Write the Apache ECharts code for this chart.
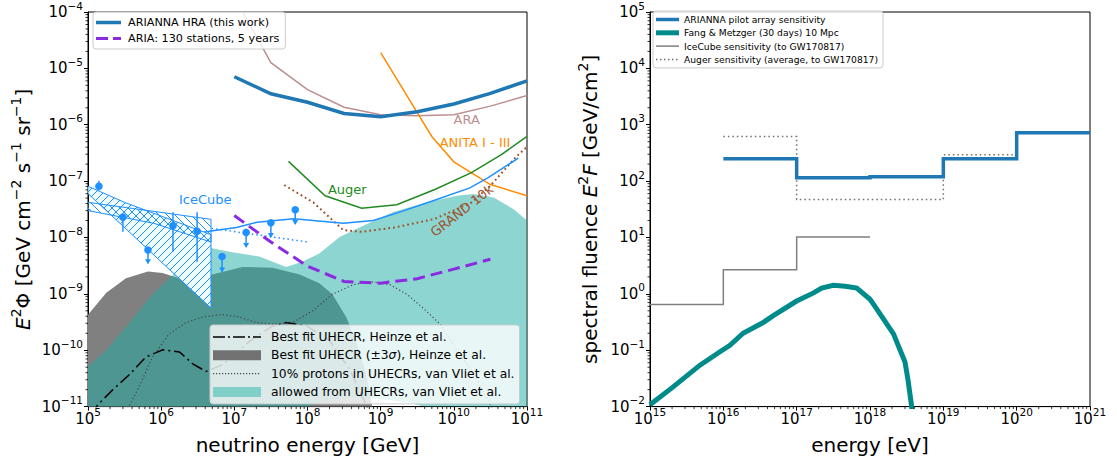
<!DOCTYPE html>
<html><head><meta charset="utf-8">
<script src="https://cdn.jsdelivr.net/npm/echarts@6/dist/echarts.min.js"></script>
<style>html,body{margin:0;padding:0;background:#fff}#c{width:1117px;height:464px}</style>
</head><body><div id="c"></div>
<script>
// ================= DATA: left panel (neutrino energy [GeV], E^2 Phi) =================
const ariannaHraE = [1e7, 3.16e7, 1e8, 3.16e8, 1e9, 3.16e9, 1e10, 3.16e10, 1e11];
const ariannaHraF = [7.1e-6, 3.55e-6, 2.5e-6, 1.58e-6, 1.38e-6, 1.7e-6, 2.34e-6, 3.6e-6, 6.0e-6];

const araE = [1e7, 3.16e7, 1e8, 3.16e8, 1e9, 3.16e9, 1e10, 3.16e10, 1e11];
const araF = [1.86e-4, 1.26e-5, 4.2e-6, 2.04e-6, 1.51e-6, 1.45e-6, 1.51e-6, 2.14e-6, 3.3e-6];

const anitaE = [1e9, 2.5e9, 5e9, 1e10, 3.16e10, 1e11];
const anitaF = [1.9e-5, 2.7e-6, 6.2e-7, 2.2e-7, 8.7e-8, 5.5e-8];

const augerE = [5.5e7, 1.74e8, 5.5e8, 1.66e9, 5.5e9, 1.74e10, 4.47e10, 1e11];
const augerF = [2.24e-7, 5.5e-8, 3.3e-8, 3.8e-8, 7.1e-8, 1.41e-7, 2.95e-7, 6.2e-7];

const grandE = [4.8e7, 1.2e8, 3.1e8, 5.5e8, 1.58e9, 5.5e9, 1.74e10, 3.1e10, 7.2e10, 1e11];
const grandF = [8.5e-8, 4.2e-8, 1.35e-8, 1.26e-8, 1.51e-8, 2.14e-8, 4.17e-8, 8.1e-8, 2.75e-7, 4.07e-7];

const icecubeE = [1.6e6, 2.2e6, 4.8e6, 1.07e7, 2.04e7, 6.5e7, 3.1e8, 7.9e8, 1.82e9, 5.2e9, 1.66e10, 2.95e10, 7.6e10];
const icecubeF = [7.8e-9, 1.1e-8, 1.3e-8, 1.51e-8, 1.86e-8, 2.14e-8, 1.78e-8, 2.0e-8, 2.82e-8, 4.47e-8, 7.6e-8, 1.15e-7, 2.57e-7];

const icecubeDotE = [4.9e6, 1.02e8];
const icecubeDotF = [1.45e-8, 8.3e-9];

const ariaE = [1e7, 3.16e7, 1e8, 3.16e8, 1e9, 3.16e9, 1e10, 3.16e10];
const ariaF = [2.45e-8, 8.3e-9, 3.1e-9, 1.66e-9, 1.55e-9, 1.86e-9, 2.75e-9, 4.1e-9];

const heinzeE = [1.12e5, 1.35e5, 2.19e5, 3.6e5, 6.2e5, 1.05e6, 1.78e6, 2.7e6, 4.1e6, 7.1e6, 1.58e7, 3.16e7, 5.1e7, 9.8e7, 2.0e8, 3.8e8, 6.5e8, 7.9e8];
const heinzeF = [7e-12, 1.07e-11, 2.0e-11, 3.6e-11, 7.6e-11, 1.02e-10, 9.3e-11, 5.75e-11, 4.2e-11, 5.6e-11, 1.41e-10, 2.6e-10, 3.1e-10, 2.7e-10, 1.48e-10, 4.5e-11, 1.0e-11, 5e-12];

const protonsE = [3.2e5, 3.6e5, 5.0e5, 7.6e5, 1.29e6, 2.19e6, 3.7e6, 6.9e6, 1.17e7, 2.0e7, 3.3e7, 6.3e7, 1.17e8, 2.19e8, 4.2e8, 7.1e8, 1.35e9, 2.29e9, 3.8e9, 6.5e9, 1.1e10, 1.86e10, 3.1e10, 3.5e10];
const protonsF = [7e-12, 1.0e-11, 2.24e-11, 7.6e-11, 1.95e-10, 3.1e-10, 3.9e-10, 4.3e-10, 3.9e-10, 3.1e-10, 2.9e-10, 3.1e-10, 5.0e-10, 9.8e-10, 1.45e-9, 1.66e-9, 1.45e-9, 9.8e-10, 5.6e-10, 2.9e-10, 1.0e-10, 3.9e-11, 1.15e-11, 8e-12];

// Heinze +-3 sigma band (upper edge, lower edge)
const heinzeBandUpE = [9.3e4, 1.78e5, 3.3e5, 6.6e5, 1.05e6, 2.1e6, 5.0e6, 1.29e7, 3.3e7, 7.8e7, 1.45e8, 2.19e8, 3.4e8, 4.6e8, 6.3e8, 7.8e8, 8.9e8];
const heinzeBandUpF = [3.8e-10, 1.05e-9, 1.9e-9, 2.5e-9, 2.35e-9, 1.74e-9, 2.2e-9, 3.0e-9, 2.9e-9, 2.2e-9, 1.55e-9, 9.8e-10, 3.8e-10, 1.48e-10, 3.9e-11, 8.9e-12, 3.2e-12];
const heinzeBandLoE = [8.9e8, 9.3e4];
const heinzeBandLoF = [1e-12, 1e-12];

// allowed from UHECRs (van Vliet) band
const vlietUpE = [9.3e4, 1.78e5, 3.6e5, 7.6e5, 1.29e6, 2.45e6, 4.8e6, 8.5e6, 2.19e7, 5.1e7, 8.5e7, 1.45e8, 2.75e8, 6.5e8, 1.48e9, 4.3e9, 1.1e10, 1.86e10, 3.5e10, 6.5e10, 1e11];
const vlietUpF = [4.8e-11, 1.0e-10, 2.95e-10, 9.8e-10, 1.9e-9, 4.1e-9, 6.5e-9, 5.6e-9, 4.6e-9, 3.0e-9, 3.7e-9, 5.2e-9, 1.02e-8, 1.74e-8, 2.82e-8, 4.2e-8, 5.5e-8, 5.9e-8, 5.1e-8, 3.2e-8, 2.0e-8];
const vlietLoE = [1e11, 6.3e9, 5.5e9, 2.5e9, 9.8e8, 3.8e8, 1.48e8, 7.9e7, 7.1e7, 9.3e4];
const vlietLoF = [1e-12, 3e-12, 8.9e-12, 1.17e-11, 1.38e-11, 1.45e-11, 1.23e-11, 8.9e-12, 3e-12, 1e-12];

// IceCube astrophysical fits (butterflies)
const icBandAUpE = [1e5, 8e5, 4.8e6];
const icBandAUpF = [4.2e-8, 2.9e-8, 2.1e-8];
const icBandALoE = [4.8e6, 8e5, 1e5];
const icBandALoF = [8.3e-9, 1.78e-8, 3.0e-8];
const icBandBUpE = [1e5, 3.16e5, 1e6, 4.8e6];
const icBandBUpF = [8.1e-8, 4.2e-8, 2.4e-8, 1.12e-8];
const icBandBLoE = [4.8e6, 1e6, 3.16e5, 1e5];
const icBandBLoF = [5.6e-10, 3.7e-9, 1.5e-8, 6.0e-8];

// IceCube data points: energy, flux, lower end, upper end (null = none), upper limit flag
const icPointE    = [1.41e5, 3.0e5, 6.6e5, 1.45e6, 3.1e6, 6.8e6, 1.45e7, 3.16e7, 6.8e7];
const icPointF    = [8.1e-8, 2.3e-8, 6.0e-9, 1.62e-8, 1.29e-8, 4.6e-9, 1.23e-8, 1.82e-8, 3.1e-8];
const icPointLow  = [6.8e-8, 1.26e-8, 3.5e-9, 5.6e-9, 3.7e-9, 2.5e-9, 6.8e-9, 1.02e-8, 1.74e-8];
const icPointHigh = [1.02e-7, 2.6e-8, null, 2.8e-8, 2.8e-8, null, null, null, null];
const icPointUL   = [0, 0, 1, 0, 0, 1, 1, 1, 1];

// in-plot annotations
const annText = ['ARA', 'ANITA I - III', 'Auger', 'IceCube', 'GRAND 10k'];
const annE    = [1.5e10, 1.95e10, 3.5e8, 4.0e6, 1.29e10];
const annF    = [1.23e-6, 4.8e-7, 7.2e-8, 4.8e-8, 3.0e-8];

// ================= DATA: right panel (energy [eV], spectral fluence) =================
const pilotE = [1e16, 1e17, 1e18, 1e19, 1e20, 1e21];
const pilotF = [250, 115, 120, 250, 720, 720];

const augerSensE = [1e16, 1e17, 1e19, 1e20];
const augerSensF = [617, 47, 295, 295];

const icSensE = [1e15, 1e16, 1e17, 1e18];
const icSensF = [0.65, 2.67, 10.2, 10.2];

const fangE = [1e15, 2.09e15, 4.8e15, 8.9e15, 1.23e16, 1.86e16, 3.5e16, 4.8e16, 1e17, 1.7e17, 2.19e17, 3.16e17, 4.6e17, 6.6e17, 1e18, 1.12e18, 2.09e18, 3.0e18, 3.3e18, 3.7e18, 3.9e18];
const fangF = [0.0108, 0.0226, 0.0543, 0.093, 0.122, 0.20, 0.31, 0.41, 0.745, 1.04, 1.27, 1.42, 1.36, 1.27, 0.80, 0.65, 0.195, 0.062, 0.0295, 0.01, 0.003];

// axis ranges (decades)
const leftX = [1e5, 1e11], leftY = [1e-11, 1e-4];
const rightX = [1e15, 1e21], rightY = [1e-2, 1e5];

// ================= helpers =================
const FONT = 'DejaVu Sans';
const zip = (a, b) => a.map((v, i) => [v, b[i]]);

function minorTicks(lo, hi) {
  const out = [];
  const d0 = Math.round(Math.log10(lo)), d1 = Math.round(Math.log10(hi));
  for (let d = d0; d < d1; d++) for (let m = 2; m <= 9; m++) out.push(m * Math.pow(10, d));
  return out;
}
function sciLabel(v) {
  const e = Math.round(Math.log10(v));
  return '{b|10}{s|' + (e < 0 ? '\u2212' + (-e) : e) + '}';
}
const labelRich = {
  b: { fontSize: 15, lineHeight: 24, verticalAlign: 'middle', fontFamily: FONT, color: '#000' },
  s: { fontSize: 10.5, lineHeight: 11, verticalAlign: 'top', fontFamily: FONT, color: '#000' }
};
const nameRich = {
  i: { fontStyle: 'italic', fontSize: 20, lineHeight: 28, fontFamily: FONT, color: '#000' },
  s: { fontSize: 14, lineHeight: 14, verticalAlign: 'top', fontFamily: FONT, color: '#000' }
};

function hatch(dir, bg) {
  const c = document.createElement('canvas');
  c.width = 8; c.height = 8;
  const g = c.getContext('2d');
  if (bg) { g.fillStyle = bg; g.fillRect(0, 0, 8, 8); }
  g.strokeStyle = '#1e90ff'; g.lineWidth = 1;
  g.beginPath();
  if (dir === '/') {
    g.moveTo(-1, 9); g.lineTo(9, -1);
    g.moveTo(-1, 1); g.lineTo(1, -1);
    g.moveTo(7, 9); g.lineTo(9, 7);
  } else {
    g.moveTo(-1, -1); g.lineTo(9, 9);
    g.moveTo(7, -1); g.lineTo(9, 1);
    g.moveTo(-1, 7); g.lineTo(1, 9);
  }
  g.stroke();
  return { image: c, repeat: 'repeat' };
}

function polySeries(name, xi, upE, upF, loE, loF, style, z, color) {
  return {
    type: 'custom', name: name, xAxisIndex: xi, yAxisIndex: xi, z: z, clip: true, silent: true,
    itemStyle: { color: color || '#888' },
    data: [xi === 0 ? [1e6, 1e-8] : [1e17, 1]],
    renderItem: function (params, api) {
      const pts = [];
      upE.forEach((e, i) => pts.push(api.coord([e, upF[i]])));
      loE.forEach((e, i) => pts.push(api.coord([e, loF[i]])));
      return { type: 'polygon', shape: { points: pts }, style: style };
    }
  };
}

function lineSeries(name, xi, E, F, color, width, type, z, step) {
  return {
    type: 'line', name: name, xAxisIndex: xi, yAxisIndex: xi, data: zip(E, F),
    showSymbol: false, symbol: 'none', color: color, z: z || 3, step: step || false, silent: true,
    lineStyle: { color: color, width: width, type: type || 'solid', cap: 'butt', join: 'miter' }
  };
}

function minorTickSeries(xi, axis, vals, fixed) {
  return {
    type: 'custom', xAxisIndex: xi, yAxisIndex: xi, clip: false, silent: true, z: 10,
    data: vals.map(v => axis === 'x' ? [v, fixed] : [fixed, v]),
    renderItem: function (params, api) {
      const p = api.coord([api.value(0), api.value(1)]);
      const shape = axis === 'x'
        ? { x1: p[0], y1: p[1], x2: p[0], y2: p[1] + 2.5 }
        : { x1: p[0] - 2.5, y1: p[1], x2: p[0], y2: p[1] };
      return { type: 'line', shape: shape, style: { stroke: '#000', lineWidth: 0.8 } };
    }
  };
}

// legend icon paths (stretched to item box, corner moves fix the box)
function barIcon(w, h, y0, t) { return 'path://M0,0 M0,' + y0 + 'h' + w + 'v' + t + 'h-' + w + 'z M' + w + ',' + h; }
function dashIcon(w, h, y0, t, segs) {
  let p = 'path://M0,0';
  segs.forEach(s => { p += ' M' + s[0] + ',' + y0 + 'h' + s[1] + 'v' + t + 'h-' + s[1] + 'z'; });
  return p + ' M' + w + ',' + h;
}
function dotIcon(w, h, y0, t, step) {
  const segs = [];
  for (let x = 0; x + t <= w; x += step) segs.push([x, t]);
  return dashIcon(w, h, y0, t, segs);
}

// ================= option =================
const C = {
  blue: '#1f77b4', ara: '#bc8f8f', anita: '#ff8c00', auger: '#228b22', grand: '#a0522d',
  ice: '#1e90ff', aria: '#8a2be2', teal: '#008b8b'
};

const series = [
  polySeries('Best fit UHECR (\u00b13\u03c3), Heinze et al.', 0, heinzeBandUpE, heinzeBandUpF, heinzeBandLoE, heinzeBandLoF,
    { fill: '#808080' }, 1, '#727272'),
  polySeries('allowed from UHECRs, van Vliet et al.', 0, vlietUpE, vlietUpF, vlietLoE, vlietLoF,
    { fill: 'rgba(27,171,161,0.5)' }, 1, '#80cfc9'),
  lineSeries('Best fit UHECR, Heinze et al.', 0, heinzeE, heinzeF, '#000', 1.5, [12, 4, 2, 4], 2),
  lineSeries('10% protons in UHECRs, van Vliet et al.', 0, protonsE, protonsF, '#444', 1.2, [1.2, 2.4], 2),
  lineSeries('ARA', 0, araE, araF, C.ara, 1.5),
  lineSeries('ANITA', 0, anitaE, anitaF, C.anita, 1.5),
  lineSeries('Auger', 0, augerE, augerF, C.auger, 1.5),
  lineSeries('GRAND 10k', 0, grandE, grandF, C.grand, 2, [1.8, 3], 3),
  lineSeries('IceCube', 0, icecubeE, icecubeF, C.ice, 1.5),
  lineSeries('IceCube extension', 0, icecubeDotE, icecubeDotF, C.ice, 1.5, [1.5, 3]),
  polySeries('IceCube fit B', 0, icBandBUpE, icBandBUpF, icBandBLoE, icBandBLoF,
    { fill: hatch('/', '#eefbff'), stroke: C.ice, lineWidth: 1 }, 4),
  polySeries('IceCube fit A', 0, icBandAUpE, icBandAUpF, icBandALoE, icBandALoF,
    { fill: hatch('\\', null), stroke: C.ice, lineWidth: 1 }, 4),
  {
    type: 'custom', name: 'IceCube points', xAxisIndex: 0, yAxisIndex: 0, z: 5, clip: true, silent: true,
    data: icPointE.map((e, i) => [e, icPointF[i], icPointLow[i], icPointHigh[i] == null ? icPointF[i] : icPointHigh[i], icPointUL[i]]),
    renderItem: function (params, api) {
      const p = api.coord([api.value(0), api.value(1)]);
      const lo = api.coord([api.value(0), api.value(2)]);
      const hi = api.coord([api.value(0), api.value(3)]);
      const st = { stroke: C.ice, lineWidth: 1.5 };
      const ch = [];
      ch.push({ type: 'line', shape: { x1: p[0], y1: hi[1], x2: p[0], y2: lo[1] }, style: st });
      if (api.value(4)) {
        ch.push({ type: 'polygon', shape: { points: [[p[0] - 3, lo[1] - 4], [p[0] + 3, lo[1] - 4], [p[0], lo[1] + 1]] }, style: { fill: C.ice } });
      }
      ch.push({ type: 'circle', shape: { cx: p[0], cy: p[1], r: 3.8 }, style: { fill: C.ice } });
      return { type: 'group', children: ch };
    }
  },
  lineSeries('ARIA: 130 stations, 5 years', 0, ariaE, ariaF, C.aria, 3, [12, 6], 6),
  lineSeries('ARIANNA HRA (this work)', 0, ariannaHraE, ariannaHraF, C.blue, 3.5, 'solid', 6),
  {
    type: 'custom', xAxisIndex: 0, yAxisIndex: 0, z: 7, clip: false, silent: true,
    data: annE.map((e, i) => [e, annF[i]]),
    renderItem: function (params, api) {
      const i = params.dataIndex;
      const p = api.coord([api.value(0), api.value(1)]);
      const cols = [C.ara, C.anita, C.auger, C.ice, C.grand];
      return {
        type: 'text', x: p[0], y: p[1], rotation: i === 4 ? 38 * Math.PI / 180 : 0,
        style: { text: annText[i], fill: cols[i], font: '13px "DejaVu Sans"', align: 'center', verticalAlign: 'middle' }
      };
    }
  },
  lineSeries('IceCube sensitivity (to GW170817)', 1, icSensE, icSensF, '#7f7f7f', 1.5, 'solid', 3, 'end'),
  lineSeries('Auger sensitivity (average, to GW170817)', 1, augerSensE, augerSensF, '#6f6f6f', 1.5, [1.5, 3], 3, 'end'),
  lineSeries('Fang & Metzger (30 days) 10 Mpc', 1, fangE, fangF, C.teal, 5, 'solid', 4),
  lineSeries('ARIANNA pilot array sensitivity', 1, pilotE, pilotF, C.blue, 3.5, 'solid', 5, 'end'),
  minorTickSeries(0, 'x', minorTicks(leftX[0], leftX[1]), leftY[0]),
  minorTickSeries(0, 'y', minorTicks(leftY[0], leftY[1]), leftX[0]),
  minorTickSeries(1, 'x', minorTicks(rightX[0], rightX[1]), rightY[0]),
  minorTickSeries(1, 'y', minorTicks(rightY[0], rightY[1]), rightX[0])
];

function logAxis(gi, range, extra) {
  return Object.assign({
    type: 'log', logBase: 10, gridIndex: gi, min: range[0], max: range[1],
    splitLine: { show: false },
    axisLine: { show: true, onZero: false, lineStyle: { color: '#000', width: 1 } },
    axisTick: { show: true, inside: false, length: 4, lineStyle: { color: '#000', width: 1 } },
    axisLabel: { formatter: sciLabel, rich: labelRich, color: '#000', fontFamily: FONT },
    nameLocation: 'middle',
    nameTextStyle: { fontFamily: FONT, fontSize: 20, lineHeight: 28, color: '#000', rich: nameRich }
  }, extra);
}

const legendBase = {
  orient: 'vertical', selectedMode: false, backgroundColor: 'rgba(255,255,255,0.8)',
  borderColor: '#cccccc', borderWidth: 1, borderRadius: 3,
  itemStyle: { borderWidth: 0 }, inactiveColor: '#ccc'
};

const option = {
  animation: false,
  backgroundColor: '#fff',
  textStyle: { fontFamily: FONT },
  grid: [
    { left: 88, top: 7, width: 439, height: 400, show: true, borderColor: '#000', borderWidth: 1, backgroundColor: 'transparent' },
    { left: 650, top: 7, width: 440, height: 400, show: true, borderColor: '#000', borderWidth: 1, backgroundColor: 'transparent' }
  ],
  xAxis: [
    logAxis(0, leftX, { name: 'neutrino energy [GeV]', nameGap: 22, axisLabel: { formatter: sciLabel, rich: labelRich, margin: 0 } }),
    logAxis(1, rightX, { name: 'energy [eV]', nameGap: 22, axisLabel: { formatter: sciLabel, rich: labelRich, margin: 0 } })
  ],
  yAxis: [
    logAxis(0, leftY, { name: '{i|E}{s|2}\u03a6 [GeV cm{s|\u22122} s{s|\u22121} sr{s|\u22121}]', nameGap: 51, axisLabel: { formatter: sciLabel, rich: labelRich, margin: 5 } }),
    logAxis(1, rightY, { name: 'spectral fluence {i|E}{s|2}{i|F} [GeV/cm{s|2}]', nameGap: 46, axisLabel: { formatter: sciLabel, rich: labelRich, margin: 5 } })
  ],
  legend: [
    Object.assign({}, legendBase, {
      left: 93, top: 12, padding: [4, 6, 4, 3], itemWidth: 25, itemHeight: 8, itemGap: 3,
      textStyle: { fontSize: 11.2, lineHeight: 13, fontFamily: FONT, color: '#000', padding: [0, 0, 0, 2] },
      data: [
        { name: 'ARIANNA HRA (this work)', icon: barIcon(25, 8, 2.25, 3.5), itemStyle: { color: C.blue } },
        { name: 'ARIA: 130 stations, 5 years', icon: dashIcon(25, 8, 2.5, 3, [[0, 12], [17, 8]]), itemStyle: { color: C.aria } }
      ]
    }),
    Object.assign({}, legendBase, {
      left: 210, top: 325, padding: [5, 5, 5, 3], itemWidth: 48, itemHeight: 10, itemGap: 4.3,
      textStyle: { fontSize: 12.3, lineHeight: 14, fontFamily: FONT, color: '#000', padding: [0, 0, 0, 5],
        rich: { i: { fontStyle: 'italic', fontSize: 12.3, fontFamily: FONT, color: '#000' } } },
      formatter: function (n) { return n.replace('\u03c3', '{i|\u03c3}'); },
      data: [
        { name: 'Best fit UHECR, Heinze et al.', icon: dashIcon(48, 10, 4.25, 1.5, [[0, 12], [15, 2], [20, 12], [35, 2], [40, 8]]), itemStyle: { color: '#000' } },
        { name: 'Best fit UHECR (\u00b13\u03c3), Heinze et al.', icon: 'rect', itemStyle: { color: '#727272' } },
        { name: '10% protons in UHECRs, van Vliet et al.', icon: dotIcon(48, 10, 4.4, 1.2, 3), itemStyle: { color: '#444' } },
        { name: 'allowed from UHECRs, van Vliet et al.', icon: 'rect', itemStyle: { color: '#80cfc9' } }
      ]
    }),
    Object.assign({}, legendBase, {
      left: 653, top: 11, padding: [3, 5, 3, 3], itemWidth: 23, itemHeight: 7, itemGap: 2.3,
      textStyle: { fontSize: 9.2, lineHeight: 11, fontFamily: FONT, color: '#000', padding: [0, 0, 0, 0] },
      data: [
        { name: 'ARIANNA pilot array sensitivity', icon: barIcon(23, 7, 1.75, 3.5), itemStyle: { color: C.blue } },
        { name: 'Fang & Metzger (30 days) 10 Mpc', icon: barIcon(23, 7, 1, 5), itemStyle: { color: C.teal } },
        { name: 'IceCube sensitivity (to GW170817)', icon: barIcon(23, 7, 2.75, 1.5), itemStyle: { color: '#7f7f7f' } },
        { name: 'Auger sensitivity (average, to GW170817)', icon: dotIcon(23, 7, 2.75, 1.5, 4), itemStyle: { color: '#6f6f6f' } }
      ]
    })
  ],
  series: series
};

const chart = echarts.init(document.getElementById('c'), null, { renderer: 'svg', width: 1117, height: 464 });
chart.setOption(option);
</script></body></html>
